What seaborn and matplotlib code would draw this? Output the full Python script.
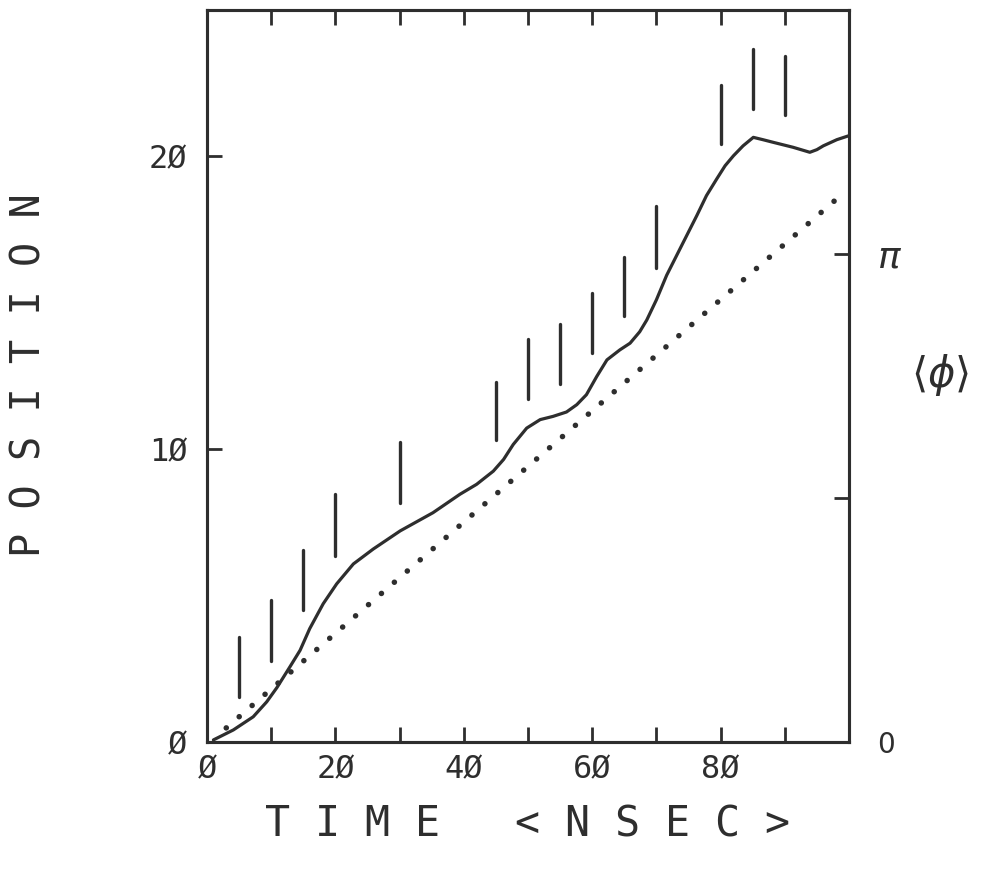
import numpy as np
import matplotlib
matplotlib.use("Agg")
import matplotlib.pyplot as plt
import seaborn as sns

# Mean position of the front versus time (solid curve)
pos_t = [1.0, 4.1, 7.2, 9.3, 10.9, 12.9, 14.5, 16.0, 18.1, 20.2, 22.8, 25.9,
         30.1, 35.2, 39.4, 42.0, 44.6, 46.2, 47.7, 49.8, 51.9, 53.9, 56.0,
         57.6, 59.1, 60.7, 62.3, 64.3, 65.9, 67.4, 68.5, 70.0, 71.6, 74.2,
         76.3, 77.8, 79.4, 80.7, 82.0, 83.5, 85.1, 86.6, 88.2, 91.3, 93.9,
         95.0, 96.0, 98.1, 99.9]
pos_x = [0.07, 0.41, 0.86, 1.37, 1.86, 2.56, 3.13, 3.87, 4.72, 5.40, 6.08,
         6.59, 7.21, 7.83, 8.46, 8.80, 9.25, 9.65, 10.16, 10.72, 11.01, 11.12,
         11.27, 11.52, 11.86, 12.48, 13.05, 13.39, 13.62, 14.01, 14.41, 15.10,
         15.94, 17.07, 17.98, 18.66, 19.23, 19.68, 20.02, 20.36, 20.65, 20.57,
         20.48, 20.31, 20.14, 20.23, 20.36, 20.57, 20.70]

# Straight reference line (dotted), end points
ref_t = [3, 99]
ref_x = [0.48, 18.72]

# Phase bars: time, lower and upper ends (in position units)
bar_t = [5, 10, 15, 20, 30, 45, 50, 55, 60, 65, 70, 80, 85, 90]
bar_lo = [1.53, 2.76, 4.52, 6.36, 8.16, 10.31, 11.73, 12.24, 13.3, 14.56,
          16.19, 20.44, 21.63, 21.43]
bar_hi = [3.57, 4.86, 6.56, 8.47, 10.25, 12.31, 13.78, 14.29, 15.34, 16.56,
          18.3, 22.45, 23.67, 23.43]

x_ticks = list(range(0, 101, 10))
x_labels = ["Ø", "", "2Ø", "", "4Ø", "", "6Ø", "", "8Ø", "", ""]
y_ticks = [0, 10, 20]
y_labels = ["Ø", "1Ø", "2Ø"]
phi_ticks = [0, np.pi / 2, np.pi]
phi_labels = ["0", "", r"$\pi$"]

sns.set_style("white")
plt.rcParams["font.family"] = ["DejaVu Sans Mono", "DejaVu Sans"]

ink = "#2e2e2e"
fig = plt.figure(figsize=(9.88, 8.76), dpi=100)
fig.patch.set_facecolor("white")
ax = fig.add_axes([0.2095, 0.153, 0.6498, 0.8356])

sns.lineplot(x=pos_t, y=pos_x, ax=ax, color=ink, lw=2.3, estimator=None)
ax.plot(ref_t, ref_x, color=ink, lw=4.0, ls=(0, (0.01, 3.07)),
        dash_capstyle="round")
ax.vlines(bar_t, bar_lo, bar_hi, color=ink, lw=2.4, capstyle="round")

ax.set_xlim(0, 100)
ax.set_ylim(0, 25)
ax.set_xticks(x_ticks)
ax.set_xticklabels(x_labels, fontsize=23, color=ink)
ax.set_yticks(y_ticks)
ax.set_yticklabels(y_labels, fontsize=23, color=ink)
ax.tick_params(axis="x", direction="in", length=11, width=2.0, top=True,
               bottom=True, pad=9, colors=ink)
ax.tick_params(axis="y", direction="in", length=11, width=2.0, left=True,
               right=False, pad=14, colors=ink)
for s in ax.spines.values():
    s.set_visible(True)
    s.set_linewidth(2.2)
    s.set_color(ink)

ax2 = ax.twinx()
ax2.set_ylim(0, 1.5 * np.pi)
ax2.set_yticks(phi_ticks)
ax2.set_yticklabels(phi_labels, fontsize=20, color=ink, family="DejaVu Sans")
ax2.get_yticklabels()[2].set_fontsize(27)
ax2.tick_params(axis="y", direction="in", length=11, width=2.0, right=True,
                pad=20, colors=ink)
for s in ax2.spines.values():
    s.set_linewidth(2.2)
    s.set_color(ink)

ax.set_xlabel("T I M E   < N S E C >", fontsize=30, color=ink)
ax.xaxis.set_label_coords(0.5, -0.113)
ax.xaxis.label.set_va("center")
ax.set_ylabel("P O S I T I O N", fontsize=29, color=ink)
ax.yaxis.set_label_coords(-0.276, 0.501)
ax.yaxis.label.set_va("center")
ax2.set_ylabel(r"$\langle\phi\rangle$", fontsize=30, color=ink, rotation=0,
               family="DejaVu Sans")
ax2.yaxis.set_label_coords(1.142, 0.501)
ax2.yaxis.label.set_va("center")
ax2.yaxis.label.set_ha("center")

fig.savefig("out.png", dpi=100, facecolor="white")
